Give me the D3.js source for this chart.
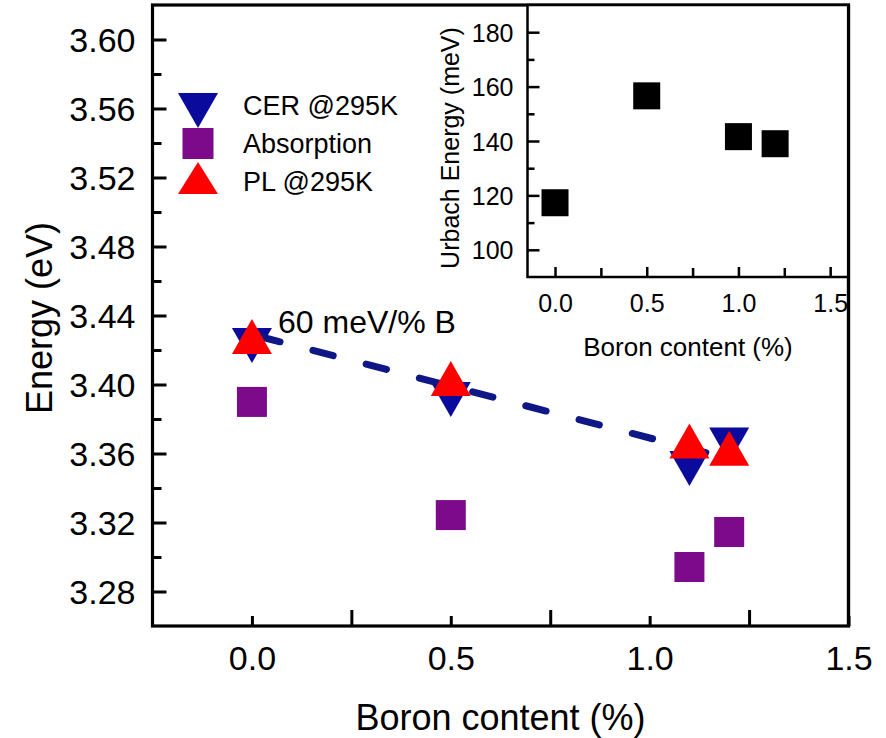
<!DOCTYPE html>
<html>
<head>
<meta charset="utf-8">
<script src="https://cdn.jsdelivr.net/npm/d3@7/dist/d3.min.js"></script>
<style>
  html, body { margin: 0; padding: 0; background: #fff; }
  svg { display: block; font-family: Arial, "Liberation Sans", Helvetica, sans-serif; }
</style>
</head>
<body>
<svg id="chart" width="886" height="738"></svg>
<script>
// Boron content of the samples (%)
const boron = [0.0, 0.5, 1.1, 1.2];
// Band-gap energies (eV)
const cerEnergy = [3.4226, 3.3913, 3.3513, 3.3650];
const absorptionEnergy = [3.3899, 3.3243, 3.2942, 3.3145];
const plEnergy = [3.4278, 3.4035, 3.3672, 3.3630];
// Linear trend of the CER gap: 60 meV per % B
const fitSlope = -0.060;
const fitIntercept = 3.429;
const fitRange = [0.0, 1.2];
const fitLabel = "60 meV/% B";

// Inset: Urbach energy vs boron content
const insetBoron = [0.0, 0.5, 1.0, 1.2];
const urbachEnergy = [117.3, 156.6, 141.6, 139.0];

// Axis ticks
const mainXTicks = [0.0, 0.5, 1.0, 1.5];
const mainXMinor = [0.25, 0.75, 1.25];
const mainYTicks = [3.28, 3.32, 3.36, 3.40, 3.44, 3.48, 3.52, 3.56, 3.60];
const mainYMinor = [3.30, 3.34, 3.38, 3.42, 3.46, 3.50, 3.54, 3.58];
const insetXTicks = [0.0, 0.5, 1.0, 1.5];
const insetXMinor = [0.25, 0.75, 1.25];
const insetYTicks = [100, 120, 140, 160, 180];
const insetYMinor = [110, 130, 150, 170];

const legendLabels = ["CER @295K", "Absorption", "PL @295K"];

const colors = { cer: "#0a0a9c", abs: "#7d0a8a", pl: "#ff0000", fit: "#0f1786" };

const svg = d3.select("#chart");

// ---------- main panel ----------
const M = { left: 152.5, right: 848.5, top: 5, bottom: 626 };
const x = d3.scaleLinear().domain([-0.25, 1.5]).range([M.left, M.right]);
const y = d3.scaleLinear().domain([3.26, 3.62]).range([M.bottom, M.top]);

const main = svg.append("g");
const TICK_W = 3;

// x axis: ticks inward
const xAxis = main.append("g").attr("transform", `translate(0,${M.bottom})`)
  .call(d3.axisBottom(x).tickValues(mainXTicks).tickSize(-10).tickPadding(0)
        .tickFormat(d3.format(".1f")));
xAxis.select(".domain").remove();
xAxis.selectAll(".tick line").attr("stroke", "#000").attr("stroke-width", TICK_W);
xAxis.selectAll(".tick text").attr("font-size", 34).attr("fill", "#000")
  .attr("dy", null).attr("y", 44);
main.append("g").attr("transform", `translate(0,${M.bottom})`)
  .call(d3.axisBottom(x).tickValues(mainXMinor).tickSize(-16).tickFormat(""))
  .call(g => g.select(".domain").remove())
  .selectAll(".tick line").attr("stroke", "#000").attr("stroke-width", TICK_W);

// y axis
const yAxis = main.append("g").attr("transform", `translate(${M.left},0)`)
  .call(d3.axisLeft(y).tickValues(mainYTicks).tickSize(-14).tickPadding(0)
        .tickFormat(d3.format(".2f")));
yAxis.select(".domain").remove();
yAxis.selectAll(".tick line").attr("stroke", "#000").attr("stroke-width", TICK_W);
yAxis.selectAll(".tick text").attr("font-size", 34).attr("fill", "#000")
  .attr("x", -17).attr("dy", "0.36em");
main.append("g").attr("transform", `translate(${M.left},0)`)
  .call(d3.axisLeft(y).tickValues(mainYMinor).tickSize(-9).tickFormat(""))
  .call(g => g.select(".domain").remove())
  .selectAll(".tick line").attr("stroke", "#000").attr("stroke-width", TICK_W);

// frame
main.append("rect")
  .attr("x", M.left).attr("y", M.top)
  .attr("width", M.right - M.left).attr("height", M.bottom - M.top)
  .attr("fill", "none").attr("stroke", "#000").attr("stroke-width", 3.2);

// axis titles
main.append("text").attr("x", (M.left + M.right) / 2).attr("y", 730)
  .attr("text-anchor", "middle").attr("font-size", 36).text("Boron content (%)");
main.append("text")
  .attr("transform", "translate(52,318) rotate(-90)")
  .attr("text-anchor", "middle").attr("font-size", 36).text("Energy (eV)");

// marker shapes (bounding-box centred)
const TW = 40, TH = 35, SQ = 30;
const downTri = (w, h) => `M${-w/2},${-h/2}L${w/2},${-h/2}L0,${h/2}Z`;
const upTri = (w, h) => `M0,${-h/2}L${w/2},${h/2}L${-w/2},${h/2}Z`;

const absData = boron.map((b, i) => ({ b, v: absorptionEnergy[i] }));
const cerData = boron.map((b, i) => ({ b, v: cerEnergy[i] }));
const plData = boron.map((b, i) => ({ b, v: plEnergy[i] }));

main.append("g").selectAll("rect").data(absData).join("rect")
  .attr("x", d => x(d.b) - SQ / 2).attr("y", d => y(d.v) - SQ / 2)
  .attr("width", SQ).attr("height", SQ).attr("fill", colors.abs);

main.append("g").selectAll("path").data(cerData).join("path")
  .attr("transform", d => `translate(${x(d.b)},${y(d.v)})`)
  .attr("d", downTri(TW, TH)).attr("fill", colors.cer);

// linear fit of the CER gap
const fitLine = d3.line().x(d => x(d)).y(d => y(fitIntercept + fitSlope * d));
main.append("path").datum(fitRange)
  .attr("d", fitLine).attr("fill", "none")
  .attr("stroke", colors.fit).attr("stroke-width", 7)
  .attr("stroke-linecap", "round").attr("stroke-dasharray", "21,34")
  .attr("stroke-dashoffset", -8);

main.append("g").selectAll("path").data(plData).join("path")
  .attr("transform", d => `translate(${x(d.b)},${y(d.v)})`)
  .attr("d", upTri(TW, TH)).attr("fill", colors.pl);

main.append("text").attr("x", 278).attr("y", 333)
  .attr("font-size", 32).text(fitLabel);

// legend
const legend = main.append("g");
const legendRows = [
  { label: legendLabels[0], cy: 110.5, shape: "down", color: colors.cer },
  { label: legendLabels[1], cy: 143.5, shape: "sq", color: colors.abs },
  { label: legendLabels[2], cy: 178, shape: "up", color: colors.pl }
];
legendRows.forEach((r, i) => {
  if (r.shape === "sq") {
    legend.append("rect").attr("x", 198 - 15.5).attr("y", r.cy - 15.5)
      .attr("width", 31).attr("height", 31).attr("fill", r.color);
  } else {
    legend.append("path").attr("transform", `translate(198,${r.cy})`)
      .attr("d", r.shape === "down" ? downTri(40, 35) : upTri(40, 32)).attr("fill", r.color);
  }
  legend.append("text").attr("x", 243).attr("y", 115 + i * 38)
    .attr("font-size", 27).text(r.label);
});

// ---------- inset ----------
const I = { left: 527.5, right: 848.5, top: 5, bottom: 277 };
const xi = d3.scaleLinear().domain([-0.15, 1.6]).range([I.left, I.right]);
const yi = d3.scaleLinear().domain([90, 190]).range([I.bottom, I.top]);
const inset = svg.append("g");

inset.append("rect")
  .attr("x", I.left).attr("y", I.top)
  .attr("width", I.right - I.left).attr("height", I.bottom - I.top)
  .attr("fill", "#fff");

const xiAxis = inset.append("g").attr("transform", `translate(0,${I.bottom})`)
  .call(d3.axisBottom(xi).tickValues(insetXTicks).tickSize(-10).tickPadding(0)
        .tickFormat(d3.format(".1f")));
xiAxis.select(".domain").remove();
xiAxis.selectAll(".tick line").attr("stroke", "#000").attr("stroke-width", 2.5);
xiAxis.selectAll(".tick text").attr("font-size", 25).attr("fill", "#000")
  .attr("dy", null).attr("y", 35);
inset.append("g").attr("transform", `translate(0,${I.bottom})`)
  .call(d3.axisBottom(xi).tickValues(insetXMinor).tickSize(-9).tickFormat(""))
  .call(g => g.select(".domain").remove())
  .selectAll(".tick line").attr("stroke", "#000").attr("stroke-width", 2.5);

const yiAxis = inset.append("g").attr("transform", `translate(${I.left},0)`)
  .call(d3.axisLeft(yi).tickValues(insetYTicks).tickSize(-12).tickPadding(0));
yiAxis.select(".domain").remove();
yiAxis.selectAll(".tick line").attr("stroke", "#000").attr("stroke-width", 2.5);
yiAxis.selectAll(".tick text").attr("font-size", 25).attr("fill", "#000")
  .attr("x", -14).attr("dy", "0.36em");
inset.append("g").attr("transform", `translate(${I.left},0)`)
  .call(d3.axisLeft(yi).tickValues(insetYMinor).tickSize(-7).tickFormat(""))
  .call(g => g.select(".domain").remove())
  .selectAll(".tick line").attr("stroke", "#000").attr("stroke-width", 2.5);

inset.append("rect")
  .attr("x", I.left).attr("y", I.top)
  .attr("width", I.right - I.left).attr("height", I.bottom - I.top)
  .attr("fill", "none").attr("stroke", "#000").attr("stroke-width", 2.5);

const ISQ = 27;
inset.append("g").selectAll("rect")
  .data(insetBoron.map((b, i) => ({ b, v: urbachEnergy[i] })))
  .join("rect")
  .attr("x", d => xi(d.b) - ISQ / 2).attr("y", d => yi(d.v) - ISQ / 2)
  .attr("width", ISQ).attr("height", ISQ).attr("fill", "#000");

inset.append("text").attr("x", (I.left + I.right) / 2).attr("y", 356)
  .attr("text-anchor", "middle").attr("font-size", 26).text("Boron content (%)");
inset.append("text")
  .attr("transform", "translate(459,148) rotate(-90)")
  .attr("text-anchor", "middle").attr("font-size", 25).text("Urbach Energy (meV)");

// right edge of the main frame drawn over the inset tick label area
svg.append("line").attr("x1", M.right).attr("x2", M.right)
  .attr("y1", M.top).attr("y2", M.bottom)
  .attr("stroke", "#000").attr("stroke-width", 3.2);
</script>
</body>
</html>
